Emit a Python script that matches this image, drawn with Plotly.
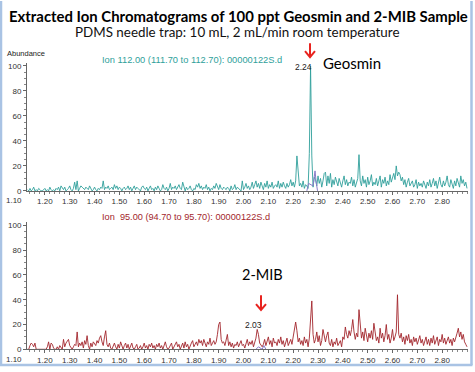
import plotly.graph_objects as go

# ---------------- data ----------------
t_start = 1.130
t_step = 0.005

geosmin = [
    1, 0, 2, 0, 1, 3, 0, 1, 0, 2, 1, 0, 0, 1, 2, 0, 1, 0, 3, 1,
    0, 1, 0, 2, 1, 3, 0, 4, 2, 1, 3, 0, 1, 2, 4, 1, 0, 2, 7, 1,
    8, 0, 2, 4, 3, 2, 1, 3, 2, 1, 4, 2, 0, 1, 3, 1, 0, 2, 1, 3,
    2, 8, 1, 3, 2, 4, 1, 2, 3, 1, 5, 2, 4, 1, 3, 2, 0, 2, 3, 1,
    2, 4, 1, 3, 0, 2, 4, 1, 3, 2, 1, 0, 3, 4, 2, 1, 3, 0, 2, 4,
    1, 2, 0, 3, 1, 4, 2, 0, 1, 5, 2, 1, 3, 0, 2, 6, 1, 3, 2, 4,
    1, 3, 5, 2, 1, 7, 2, 0, 3, 1, 2, 4, 1, 0, 2, 1, 5, 3, 6, 2,
    4, 1, 3, 2, 5, 1, 3, 0, 2, 1, 4, 2, 6, 3, 1, 5, 2, 1, 3, 2,
    1, 3, 2, 0, 4, 1, 2, 5, 1, 3, 2, 1, 0, 8, 1, 3, 6, 2, 4, 1,
    3, 7, 2, 5, 8, 3, 6, 2, 7, 4, 1, 6, 3, 8, 2, 5, 3, 7, 2, 4,
    5, 3, 8, 2, 6, 3, 7, 4, 2, 6, 3, 5, 9, 4, 7, 3, 8, 28, 12, 4,
    6, 3, 8, 2, 5, 4, 2, 30, 100, 28, 3, 11, 9, 4, 12, 6, 10, 3, 8, 14,
    15, 4, 12, 6, 14, 3, 9, 5, 11, 7, 4, 10, 6, 3, 8, 12, 5, 9, 4, 7,
    6, 11, 4, 9, 3, 7, 10, 29, 8, 4, 12, 6, 9, 3, 11, 5, 8, 13, 4, 7,
    5, 10, 4, 8, 12, 3, 9, 6, 11, 4, 8, 5, 13, 7, 10, 14, 9, 20, 12, 15,
    13, 8, 11, 5, 9, 3, 7, 10, 4, 6, 8, 3, 5, 9, 2, 7, 4, 6, 3, 8,
    5, 2, 7, 4, 9, 3, 6, 10, 4, 8, 2, 6, 11, 5, 3, 8, 4, 7, 12, 5,
    3, 9, 6, 2, 8, 4, 10, 5, 3, 12, 6, 9, 4, 7, 2,
]

mib = [
    0, 0, 3, 5, 4, 2, 5, 0, 0, 0, 0, 0, 0, 0, 0, 0, 2, 6, 0, 5,
    4, 1, 0, 0, 2, 0, 3, 1, 0, 8, 2, 5, 7, 8, 3, 1, 0, 2, 4, 3,
    14, 2, 5, 3, 6, 1, 7, 4, 11, 3, 0, 5, 2, 6, 4, 3, 7, 5, 9, 11,
    6, 3, 10, 15, 4, 2, 5, 1, 0, 3, 5, 2, 0, 4, 1, 6, 2, 0, 3, 5,
    1, 4, 0, 3, 5, 1, 0, 2, 4, 0, 1, 3, 0, 2, 5, 1, 3, 0, 4, 2,
    5, 1, 3, 0, 4, 2, 5, 1, 3, 0, 4, 6, 2, 0, 1, 3, 5, 0, 2, 4,
    6, 2, 4, 0, 3, 5, 1, 6, 2, 4, 0, 3, 5, 7, 2, 4, 6, 3, 8, 5,
    7, 3, 8, 5, 2, 6, 4, 9, 3, 5, 7, 4, 6, 12, 20, 22, 8, 5, 6, 3,
    7, 12, 3, 6, 2, 5, 1, 4, 3, 6, 2, 5, 7, 3, 4, 1, 5, 8, 3, 6,
    4, 7, 2, 5, 9, 16, 12, 5, 3, 2, 4, 8, 3, 6, 10, 4, 7, 2, 9, 5,
    6, 3, 8, 5, 10, 4, 7, 2, 6, 9, 3, 5, 8, 4, 10, 13, 22, 15, 6, 9,
    4, 7, 3, 10, 5, 8, 2, 9, 25, 39, 12, 5, 8, 14, 6, 11, 3, 7, 16, 9,
    6, 11, 14, 5, 3, 8, 2, 6, 4, 9, 3, 5, 7, 2, 10, 8, 18, 12, 9, 15,
    11, 16, 24, 14, 8, 13, 10, 32, 18, 9, 14, 7, 17, 11, 6, 13, 9, 15, 8, 21,
    12, 7, 10, 5, 17, 9, 13, 6, 11, 20, 8, 12, 5, 9, 16, 7, 10, 14, 44, 12,
    9, 13, 6, 10, 4, 11, 7, 12, 5, 8, 3, 10, 6, 9, 4, 7, 11, 5, 8, 3,
    6, 10, 4, 8, 3, 9, 5, 11, 4, 7, 10, 3, 8, 6, 12, 5, 9, 4, 7, 10,
    5, 8, 3, 9, 6, 11, 13, 17, 10, 14, 8, 12, 6, 4, 2,
]

times = [round(t_start + i * t_step, 3) for i in range(len(geosmin))]

# integration markers (purple)
geo_int_t = [2.255, 2.262, 2.280, 2.288, 2.292, 2.298]
geo_int_v = [0, 6, 4, 16, 8, 0]
mib_int_t = [2.050, 2.060, 2.075, 2.082, 2.090]
mib_int_v = [0, 2, 0, 3, 0]

x_ticks = [1.20, 1.30, 1.40, 1.50, 1.60, 1.70, 1.80, 1.90, 2.00,
           2.10, 2.20, 2.30, 2.40, 2.50, 2.60, 2.70, 2.80]
x_tick_text = ["%.2f" % v for v in x_ticks]
y_ticks = [0, 20, 40, 60, 80, 100]

TEAL = "#2f9f9b"
RED = "#a3262c"
W, H = 475, 372


def px(x):
    return x / W


def py(y):
    return 1 - y / H


fig = go.Figure()
fig.add_trace(go.Scatter(x=times, y=geosmin, mode="lines",
                         line=dict(color=TEAL, width=0.9),
                         xaxis="x", yaxis="y", hoverinfo="skip"))
fig.add_trace(go.Scatter(x=geo_int_t, y=geo_int_v, mode="lines",
                         line=dict(color="#8a7cc8", width=1),
                         xaxis="x", yaxis="y", hoverinfo="skip"))
fig.add_trace(go.Scatter(x=times, y=mib, mode="lines",
                         line=dict(color=RED, width=0.9),
                         xaxis="x2", yaxis="y2", hoverinfo="skip"))
fig.add_trace(go.Scatter(x=mib_int_t, y=mib_int_v, mode="lines",
                         line=dict(color="#8a7cc8", width=1),
                         xaxis="x2", yaxis="y2", hoverinfo="skip"))

tickfont = dict(family="Liberation Sans, Arial", size=8, color="#333333")
xr = [1.128, 2.904]
xdom = [px(27), px(468)]


def xaxis_cfg(anchor):
    return dict(domain=xdom, range=xr, anchor=anchor,
                tickvals=x_ticks, ticktext=x_tick_text,
                showgrid=False, zeroline=False, showline=True,
                linecolor="#666666", linewidth=1,
                ticks="outside", ticklen=3, tickcolor="#666666",
                minor=dict(dtick=0.02, tick0=1.10, ticks="outside",
                           ticklen=2, tickcolor="#888888"),
                tickfont=tickfont, fixedrange=True)


def yaxis_cfg(anchor, dom):
    return dict(domain=dom, range=[0, 102.4], anchor=anchor,
                tickvals=y_ticks, showgrid=False, zeroline=False,
                showline=True, linecolor="#666666", linewidth=1,
                ticks="outside", ticklen=3, tickcolor="#666666",
                minor=dict(dtick=5, ticks="outside", ticklen=2,
                           tickcolor="#888888"),
                tickfont=tickfont, fixedrange=True)


fig.update_layout(
    width=W, height=H, autosize=False,
    margin=dict(l=0, r=0, t=0, b=0),
    paper_bgcolor="white", plot_bgcolor="white",
    showlegend=False,
    xaxis=xaxis_cfg("y"),
    yaxis=yaxis_cfg("x", [py(193), py(63)]),
    xaxis2=xaxis_cfg("y2"),
    yaxis2=yaxis_cfg("x2", [py(354), py(225)]),
)

ann = []


def text(x, y, s, size, color="#000000", family="Liberation Sans, Arial",
         xanchor="center", bold=False):
    ann.append(dict(x=px(x), y=py(y), xref="paper", yref="paper",
                    text=("<b>%s</b>" % s) if bold else s, showarrow=False,
                    xanchor=xanchor, yanchor="middle",
                    font=dict(family=family, size=size, color=color)))


text(238, 15, "Extracted Ion Chromatograms of 100 ppt Geosmin and 2-MIB Sample",
     14.9, family="Lato", bold=True)
text(237, 32, "PDMS needle trap: 10 mL, 2 mL/min room temperature", 13.4,
     family="Lato", color="#111111")
text(5, 53, "Abundance", 7.5, color="#222222", xanchor="left")
text(100, 60, "Ion 112.00 (111.70 to 112.70): 00000122S.d", 9.3,
     color=TEAL, xanchor="left")
text(100, 220, "Ion  95.00 (94.70 to 95.70): 00000122S.d", 9.2,
     color=RED, xanchor="left")
text(14, 203, "1.10", 8, color="#333333")
text(14, 364, "1.10", 8, color="#333333")
text(303, 67, "2.24", 8.5, color="#222222")
text(253, 329, "2.03", 8.5, color="#222222")
text(352, 63, "Geosmin", 15, family="Lato")
text(262, 278, "2-MIB", 14.5, family="Lato")
fig.update_layout(annotations=ann)

shapes = []


def arrow(x, y0, y1):
    shapes.append(dict(type="line", xref="paper", yref="paper",
                       x0=px(x), x1=px(x), y0=py(y0), y1=py(y1),
                       line=dict(color="#e8231f", width=2)))
    shapes.append(dict(type="path", xref="paper", yref="paper",
                       path="M %f %f L %f %f L %f %f" % (
                           px(x - 5), py(y1 - 6), px(x), py(y1),
                           px(x + 5), py(y1 - 6)),
                       line=dict(color="#e8231f", width=2)))


arrow(310, 43, 57)
arrow(261, 299, 314)

BORDER = "#a9c3e4"
for (x0, y0, x1, y1) in [(1, 0, 1, 370), (471.5, 0, 471.5, 370),
                         (0, 370, 472.5, 370)]:
    shapes.append(dict(type="line", xref="paper", yref="paper",
                       x0=px(x0), x1=px(x1), y0=py(y0), y1=py(y1),
                       line=dict(color=BORDER, width=2.5)))
fig.update_layout(shapes=shapes)

fig.write_html("out.html",
               config={"displayModeBar": False},
               post_script="document.body.style.margin='0px';")
